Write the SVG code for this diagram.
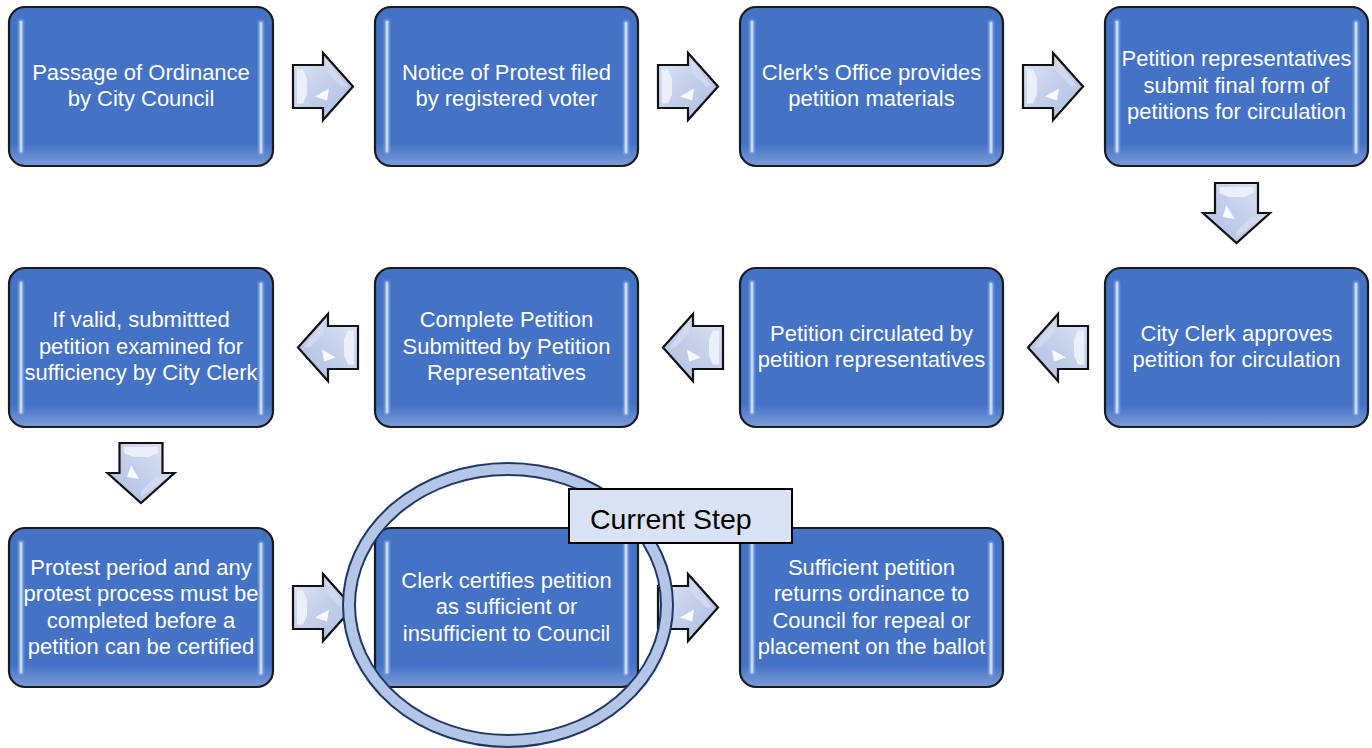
<svg xmlns="http://www.w3.org/2000/svg" width="1372" height="748" viewBox="0 0 1372 748">
<defs>
<linearGradient id="boxFill" x1="0" y1="0" x2="0" y2="1">
<stop offset="0" stop-color="#4472c4"/>
<stop offset="0.86" stop-color="#4472c4"/>
<stop offset="1" stop-color="#7d9cd9"/>
</linearGradient>
<linearGradient id="arrFill" x1="0" y1="0" x2="1" y2="1">
<stop offset="0" stop-color="#dfe6f5"/>
<stop offset="0.5" stop-color="#c3cfea"/>
<stop offset="1" stop-color="#aebde2"/>
</linearGradient>
<g id="arrow">
<path d="M0,-21.5 H30 V-33.5 L60,0 L30,33.5 V21.5 H0 Z" fill="url(#arrFill)" stroke="#111" stroke-width="2.2" stroke-linejoin="miter"/>
<path d="M4,-17 H10 L14,-8 V8 L10,17 H4 Z" fill="#eef2fb" opacity="0.9"/>
<path d="M34,-26 L54,0 L48,0 L34,-14 Z" fill="#d3dcf0" opacity="0.8"/>
<path d="M22,10 L36,2 L34,14 Z" fill="#f7f9fe"/>
</g>
</defs>
<style>
.box{fill:url(#boxFill);stroke:#1b1b1b;stroke-width:2.2}
.hl{stroke:#c6dbfa;stroke-width:3;stroke-linecap:round;fill:none}
.hlg{stroke:#7fa6e6;stroke-width:7;stroke-linecap:round;fill:none;opacity:0.5}
.t{font-family:"Liberation Sans",Arial,sans-serif;font-size:22px;fill:#ffffff;text-anchor:middle}
.cs{font-family:"Liberation Sans",Arial,sans-serif;font-size:28.5px;fill:#000000}
</style>
<rect width="1372" height="748" fill="#ffffff"/>

<g id="connectors">
<use href="#arrow" transform="translate(293,86.5)"/>
<use href="#arrow" transform="translate(658,86.5)"/>
<use href="#arrow" transform="translate(1023,86.5)"/>
<use href="#arrow" transform="translate(1236.5,183) rotate(90)"/>
<use href="#arrow" transform="translate(1088,347.5) scale(-1,1)"/>
<use href="#arrow" transform="translate(723,347.5) scale(-1,1)"/>
<use href="#arrow" transform="translate(358,347.5) scale(-1,1)"/>
<use href="#arrow" transform="translate(141,443) rotate(90)"/>
<use href="#arrow" transform="translate(293,607.5)"/>
<use href="#arrow" transform="translate(658,607.5)"/>
</g>

<g id="n1">
<rect class="box" x="9" y="7" width="264" height="159" rx="16"/>
<path class="hlg" d="M21,22 V151 M261,23 V152"/><path class="hl" d="M21,22 V151 M261,23 V152"/>
<text class="t" x="141" y="80">Passage of Ordinance</text>
<text class="t" x="141" y="106">by City Council</text>
</g>
<g id="n2">
<rect class="box" x="375" y="7" width="263" height="159" rx="16"/>
<path class="hlg" d="M387,22 V151 M626,23 V152"/><path class="hl" d="M387,22 V151 M626,23 V152"/>
<text class="t" x="506.5" y="80">Notice of Protest filed</text>
<text class="t" x="506.5" y="106">by registered voter</text>
</g>
<g id="n3">
<rect class="box" x="740" y="7" width="263" height="159" rx="16"/>
<path class="hlg" d="M752,22 V151 M991,23 V152"/><path class="hl" d="M752,22 V151 M991,23 V152"/>
<text class="t" x="871.5" y="80">Clerk’s Office provides</text>
<text class="t" x="871.5" y="106">petition materials</text>
</g>
<g id="n4">
<rect class="box" x="1105" y="7" width="263" height="159" rx="16"/>
<path class="hlg" d="M1117,22 V151 M1356,23 V152"/><path class="hl" d="M1117,22 V151 M1356,23 V152"/>
<text class="t" x="1236.5" y="66">Petition representatives</text>
<text class="t" x="1236.5" y="93">submit final form of</text>
<text class="t" x="1236.5" y="119">petitions for circulation</text>
</g>

<g id="n5">
<rect class="box" x="9" y="268" width="264" height="159" rx="16"/>
<path class="hlg" d="M21,283 V412 M261,284 V413"/><path class="hl" d="M21,283 V412 M261,284 V413"/>
<text class="t" x="141" y="327">If valid, submittted</text>
<text class="t" x="141" y="354">petition examined for</text>
<text class="t" x="141" y="380">sufficiency by City Clerk</text>
</g>
<g id="n6">
<rect class="box" x="375" y="268" width="263" height="159" rx="16"/>
<path class="hlg" d="M387,283 V412 M626,284 V413"/><path class="hl" d="M387,283 V412 M626,284 V413"/>
<text class="t" x="506.5" y="327">Complete Petition</text>
<text class="t" x="506.5" y="354">Submitted by Petition</text>
<text class="t" x="506.5" y="380">Representatives</text>
</g>
<g id="n7">
<rect class="box" x="740" y="268" width="263" height="159" rx="16"/>
<path class="hlg" d="M752,283 V412 M991,284 V413"/><path class="hl" d="M752,283 V412 M991,284 V413"/>
<text class="t" x="871.5" y="341">Petition circulated by</text>
<text class="t" x="871.5" y="367">petition representatives</text>
</g>
<g id="n8">
<rect class="box" x="1105" y="268" width="263" height="159" rx="16"/>
<path class="hlg" d="M1117,283 V412 M1356,284 V413"/><path class="hl" d="M1117,283 V412 M1356,284 V413"/>
<text class="t" x="1236.5" y="341">City Clerk approves</text>
<text class="t" x="1236.5" y="367">petition for circulation</text>
</g>

<g id="n9">
<rect class="box" x="9" y="528" width="264" height="159" rx="16"/>
<path class="hlg" d="M21,543 V672 M261,544 V673"/><path class="hl" d="M21,543 V672 M261,544 V673"/>
<text class="t" x="141" y="575">Protest period and any</text>
<text class="t" x="141" y="601">protest process must be</text>
<text class="t" x="141" y="628">completed before a</text>
<text class="t" x="141" y="654">petition can be certified</text>
</g>
<g id="n10">
<rect class="box" x="375" y="528" width="263" height="159" rx="16"/>
<path class="hlg" d="M387,543 V672 M626,544 V673"/><path class="hl" d="M387,543 V672 M626,544 V673"/>
<text class="t" x="506.5" y="588">Clerk certifies petition</text>
<text class="t" x="506.5" y="614">as sufficient or</text>
<text class="t" x="506.5" y="641">insufficient to Council</text>
</g>
<g id="n11">
<rect class="box" x="740" y="528" width="263" height="159" rx="16"/>
<path class="hlg" d="M752,543 V672 M991,544 V673"/><path class="hl" d="M752,543 V672 M991,544 V673"/>
<text class="t" x="871.5" y="575">Sufficient petition</text>
<text class="t" x="871.5" y="601">returns ordinance to</text>
<text class="t" x="871.5" y="628">Council for repeal or</text>
<text class="t" x="871.5" y="654">placement on the ballot</text>
</g>

<g id="current-step">
<ellipse cx="508" cy="605" rx="159" ry="136" fill="none" stroke="#b4c6e7" stroke-width="12"/>
<ellipse cx="508" cy="605" rx="165" ry="142" fill="none" stroke="#1f3864" stroke-width="2"/>
<ellipse cx="508" cy="605" rx="153" ry="130" fill="none" stroke="#1f3864" stroke-width="2"/>
<rect x="569" y="489" width="223" height="54" fill="#dae3f3" stroke="#000" stroke-width="2"/>
<text class="cs" x="590" y="529">Current Step</text>
</g>
</svg>
